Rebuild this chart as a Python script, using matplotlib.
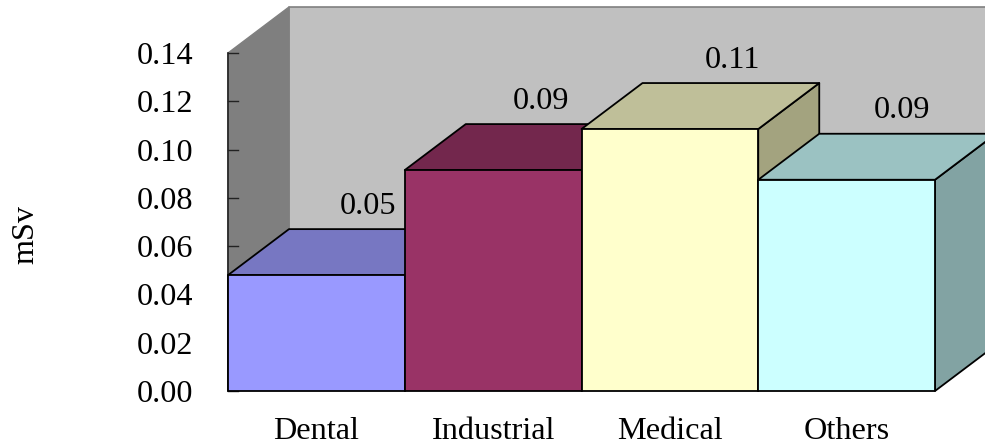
import matplotlib
matplotlib.use('Agg')
import matplotlib.pyplot as plt
from matplotlib.patches import Polygon

plt.rcParams['font.family'] = ['Liberation Serif', 'DejaVu Serif']

categories = ['Dental', 'Industrial', 'Medical', 'Others']
values = [0.048, 0.0915, 0.1085, 0.0875]
labels = ['0.05', '0.09', '0.11', '0.09']
yticks = [0.00, 0.02, 0.04, 0.06, 0.08, 0.10, 0.12, 0.14]

front = ['#9999FF', '#993366', '#FFFFCC', '#CCFFFF']
top = ['#7777C2', '#73274D', '#BFBF99', '#9BC2C2']
side = ['#6666AA', '#66224A', '#A3A37F', '#82A3A3']

W, H = 985, 448
fs = 23.2
fig = plt.figure(figsize=(W / 100, H / 100), dpi=100)
ax = fig.add_axes([228 / W, 1 - 391 / H, 707 / W, 338 / H])
ax.set_xlim(0, 4)
ax.set_ylim(0, 0.14)
ax.patch.set_visible(False)
for s in ax.spines.values():
    s.set_visible(False)

# depth of the fake 3d box, in data units
dx = 61 / 707 * 4
dy = 46 / 338 * 0.14
ymax = 0.14
# the value labels sit a bit off centre in the original (pixels)
label_shift = [-9, -13, 2, -6]


def poly(pts, fc, ec='#000000', lw=1.3, z=2):
    ax.add_patch(Polygon(pts, closed=True, facecolor=fc, edgecolor=ec, linewidth=lw,
                         clip_on=False, zorder=z, joinstyle='round'))


# walls
poly([(dx, dy), (4.5, dy), (4.5, ymax + dy), (dx, ymax + dy)], '#C0C0C0', '#808080', 1.2, 1)
poly([(0, 0), (dx, dy), (dx, ymax + dy), (0, ymax)], '#7F7F7F', '#808080', 1.0, 1)
ax.plot([0, 0], [0, ymax], color='#222222', lw=1.2, clip_on=False, zorder=1.5)
for t in yticks:
    ax.plot([0, 0.055], [t, t], color='#222222', lw=1.0, clip_on=False, zorder=1.5)

# bars, left to right so each one covers the side of the one before
for i, v in enumerate(values):
    z = 2 + i
    poly([(i + 1, 0), (i + 1 + dx, dy), (i + 1 + dx, v + dy), (i + 1, v)], side[i], z=z)
    poly([(i, v), (i + dx, v + dy), (i + 1 + dx, v + dy), (i + 1, v)], top[i], z=z)
    poly([(i, 0), (i + 1, 0), (i + 1, v), (i, v)], front[i], z=z + 0.5)
    ax.text(i + 0.5 + dx + label_shift[i] / 707 * 4, v + dy + 0.0035, labels[i], ha='center', va='bottom',
            fontsize=fs, color='black', zorder=10, clip_on=False)

ax.set_yticks(yticks)
ax.set_yticklabels(['%.2f' % t for t in yticks], fontsize=fs)
ax.set_xticks([0.5, 1.5, 2.5, 3.5])
ax.set_xticklabels(categories, fontsize=fs)
ax.tick_params(axis='y', length=0, pad=25)
ax.tick_params(axis='x', length=0, pad=18.5)
fig.text(26 / W, 1 - 235 / H, 'mSv', rotation=90, ha='center', va='center', fontsize=fs)

fig.savefig('out.png', dpi=100)
